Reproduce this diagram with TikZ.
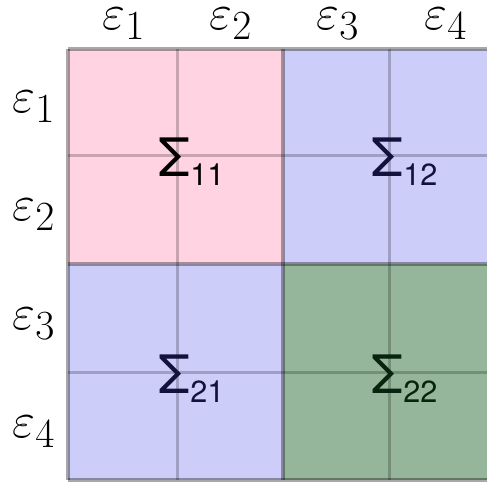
\documentclass[tikz,border=0pt]{standalone}
\usepackage{fontspec}
\newfontfamily\sigmafont{TeX Gyre Heros}
\usepackage{tikz}
\usetikzlibrary{positioning}
\definecolor{blockpink}{RGB}{255,211,226}
\definecolor{blockblue}{RGB}{205,205,250}
\definecolor{blockgreen}{RGB}{150,182,155}
\definecolor{navytext}{RGB}{18,18,60}
\definecolor{greentext}{RGB}{8,35,14}
\tikzset{
  epsl/.style={inner sep=0pt,font=\Huge},
  sigl/.style={inner sep=0pt,anchor=base west},
  thin grid/.style={black,draw opacity=0.22,line width=1.5pt},
  thick grid/.style={black,draw opacity=0.34,line width=1.8pt},
}
\newcommand{\sigmalabel}[1]{{\sigmafont\fontsize{26.5}{30}\selectfont\symbol{"03A3}}\raisebox{-4.5pt}{\sigmafont\fontsize{15.3}{18}\selectfont #1}}

\begin{document}
\begin{tikzpicture}[x=0.5pt,y=-0.5pt]
\useasboundingbox (0,0) rectangle (487,482);
% blocks
\fill[blockpink] (68,49) rectangle (283,264);
\fill[blockblue] (283,49) rectangle (495,264);
\fill[blockblue] (68,264) rectangle (283,480);
\fill[blockgreen] (283,264) rectangle (495,480);
% grid lines
\foreach \gx in {177,389} \draw[thin grid] (\gx,49) -- (\gx,480);
\foreach \gy in {155,372} \draw[thin grid] (68,\gy) -- (495,\gy);
\foreach \gx in {68,283,495} \draw[thick grid] (\gx,49) -- (\gx,480);
\foreach \gy in {49,264,480} \draw[thick grid] (68,\gy) -- (495,\gy);
% block labels
\node[sigl] (s11) at (158,176) {\sigmalabel{11}};
\node[sigl,text=navytext] (s12) at (371,176) {\sigmalabel{12}};
\node[sigl,text=navytext] (s21) at (158,393) {\sigmalabel{21}};
\node[sigl,text=greentext] (s22) at (371,393) {\sigmalabel{22}};
% row and column labels
\node[epsl] (c1) at (124,24) {$\varepsilon_1$};
\node[epsl] (c2) at (231,24) {$\varepsilon_2$};
\node[epsl] (c3) at (338,24) {$\varepsilon_3$};
\node[epsl] (c4) at (446,24) {$\varepsilon_4$};
\node[epsl] (r1) at (34,107) {$\varepsilon_1$};
\node[epsl] (r2) at (34,215) {$\varepsilon_2$};
\node[epsl] (r3) at (34,324) {$\varepsilon_3$};
\node[epsl] (r4) at (34,432) {$\varepsilon_4$};
\end{tikzpicture}
\end{document}
